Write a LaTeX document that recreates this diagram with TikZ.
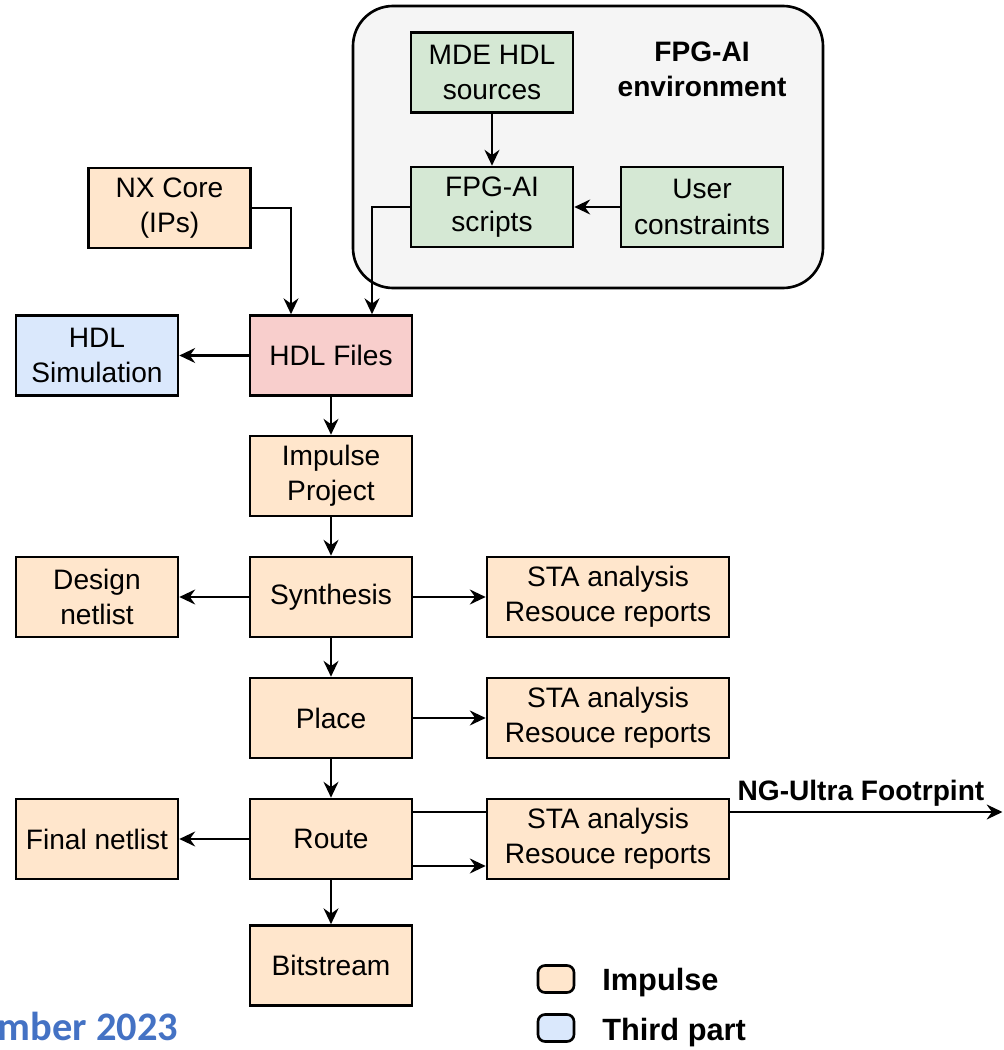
\documentclass[tikz,border=0pt]{standalone}
\usepackage{fontspec}
\setmainfont{Liberation Sans}
\newfontfamily\datefont{Carlito}
\usetikzlibrary{arrows.meta,positioning,calc}
\definecolor{impulse}{HTML}{FFE6CC}
\definecolor{fpgai}{HTML}{D5E8D4}
\definecolor{hdlred}{HTML}{F8CECC}
\definecolor{thirdpart}{HTML}{DAE8FC}
\definecolor{envgray}{HTML}{F5F5F5}
\definecolor{dateblue}{HTML}{4472C4}

\begin{document}
\begin{tikzpicture}[
      box/.style={rectangle,draw,line width=1.5pt,minimum width=3.24cm,minimum height=1.6cm,
        inner sep=2pt,align=center,font=\fontsize{16}{20}\selectfont},
      wide/.style={box,minimum width=4.84cm},
      arr/.style={-{Stealth[length=9pt,width=8.5pt,inset=3pt]},line width=1.3pt},
      line/.style={line width=1.3pt},
      lbl/.style={font=\fontsize{16}{20}\selectfont\bfseries,align=center},
      key/.style={rectangle,draw,rounded corners=4pt,line width=1.5pt,minimum width=0.72cm,minimum height=0.54cm,inner sep=0pt},
      keytxt/.style={anchor=base west,inner sep=0pt,font=\fontsize{17.5}{20}\selectfont\bfseries}
    ]
      \useasboundingbox (0,0) rectangle (20.08,21);

      % FPG-AI environment
      \node[draw,line width=1.5pt,rounded corners=0.8cm,fill=envgray,minimum width=9.4cm,minimum height=5.64cm] (env) at (11.76,18.06) {};
      \node[lbl] (envlbl) at (14.04,19.62) {FPG-AI\\environment};
      \node[box,fill=fpgai] (mde) at (9.84,19.55) {MDE HDL\\sources};
      \node[box,fill=fpgai] (scripts) at (9.84,16.86) {FPG-AI\\scripts};
      \node[box,fill=fpgai] (user) at (14.04,16.86) {User\\constraints};
      \draw[arr] (mde) -- (scripts);
      \draw[arr] (user) -- (scripts);

      % flow
      \node[box,fill=impulse] (nx) at (3.39,16.84) {NX Core\\(IPs)};
      \node[box,fill=hdlred] (hdl) at (6.62,13.89) {HDL Files};
      \node[box,fill=thirdpart] (sim) at (1.94,13.89) {HDL\\Simulation};
      \node[box,fill=impulse] (proj) at (6.62,11.48) {Impulse\\Project};
      \node[box,fill=impulse] (synth) at (6.62,9.06) {Synthesis};
      \node[box,fill=impulse] (design) at (1.94,9.06) {Design\\netlist};
      \node[wide,fill=impulse] (sta1) at (12.16,9.06) {STA analysis\\Resouce reports};
      \node[box,fill=impulse] (place) at (6.62,6.64) {Place};
      \node[wide,fill=impulse] (sta2) at (12.16,6.64) {STA analysis\\Resouce reports};
      \node[box,fill=impulse] (route) at (6.62,4.22) {Route};
      \node[box,fill=impulse] (final) at (1.94,4.22) {Final netlist};
      \node[wide,fill=impulse] (sta3) at (12.16,4.22) {STA analysis\\Resouce reports};
      \node[box,fill=impulse] (bits) at (6.62,1.69) {Bitstream};
      \coordinate (ng) at (20.05,4.76);

      \draw[arr] (scripts.west) -| ($(hdl.north)+(0.82,0)$);
      \draw[arr] (nx.east) -| ($(hdl.north)+(-0.8,0)$);
      \draw[arr] (hdl) -- (sim);
      \draw[arr] (hdl) -- (proj);
      \draw[arr] (proj) -- (synth);
      \draw[arr] (synth) -- (design);
      \draw[arr] (synth) -- (sta1);
      \draw[arr] (synth) -- (place);
      \draw[arr] (place) -- (sta2);
      \draw[arr] (place) -- (route);
      \draw[arr] (route) -- (final);
      \draw[arr] (route) -- (bits);
      \draw[arr] ($(route.east)+(0,-0.54)$) -- (sta3.west |- {$(route.east)+(0,-0.54)$});
      \draw[line] ($(route.east)+(0,0.54)$) -- (sta3.west |- ng);
      \draw[arr] (sta3.east |- ng) -- (ng) node[lbl,pos=0.48,above=-1pt] (nglbl) {NG-Ultra Footrpint};

      % legend
      \node[key,fill=impulse] (k1) at (11.12,1.42) {};
      \node[keytxt] (k1t) at (12.04,1.2) {Impulse};
      \node[key,fill=thirdpart] (k2) at (11.12,0.44) {};
      \node[keytxt] (k2t) at (12.04,0.2) {Third part};
      \node[anchor=base west,inner sep=0pt,text=dateblue,font=\fontsize{23}{26}\selectfont\datefont\bfseries] (date) at (-0.05,0.2) {mber 2023};
    \end{tikzpicture}
\end{document}
